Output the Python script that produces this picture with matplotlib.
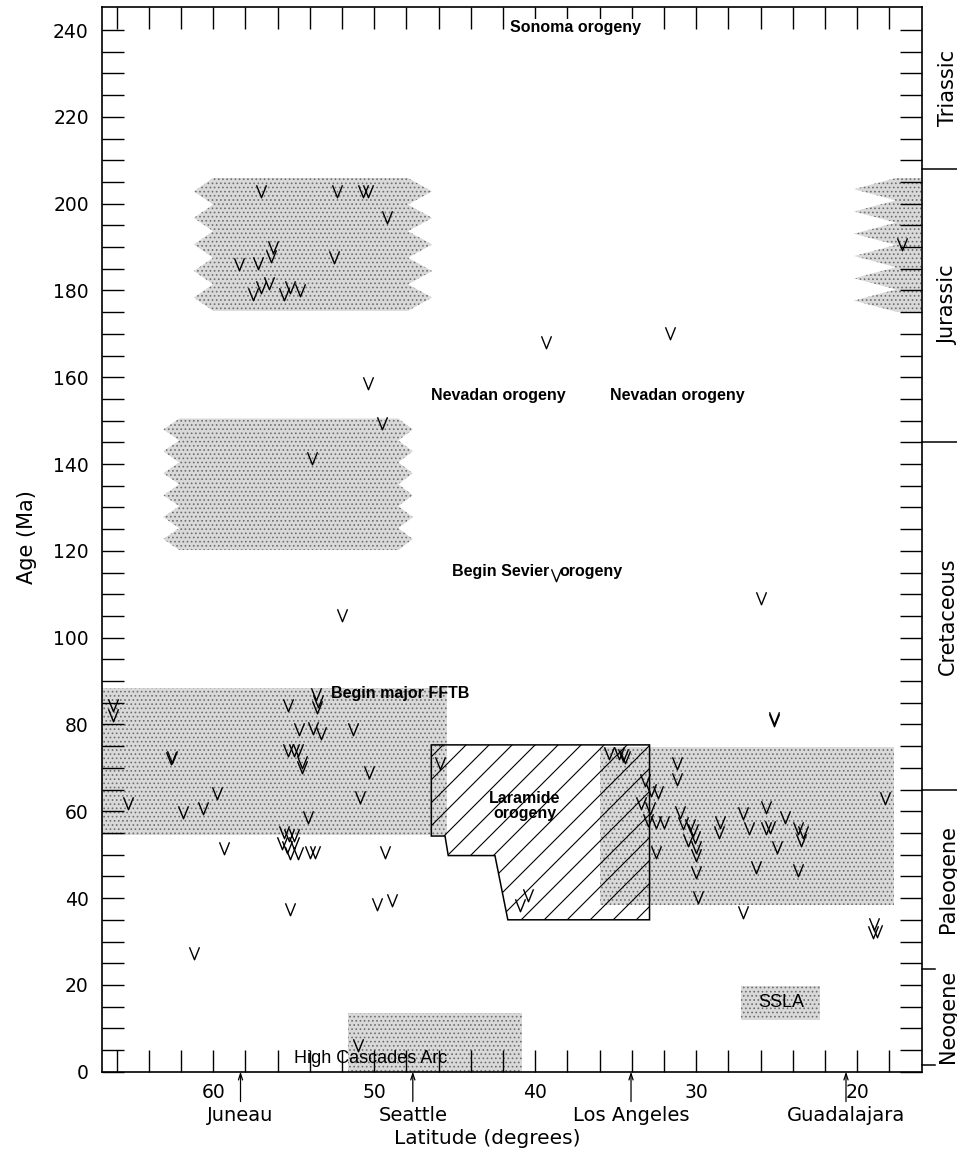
"""
plot.py - ages of arc magmatism (V symbols) against latitude along the
North American Cordillera, with orogenic events and the geologic time scale.

Output: out.png
"""

import matplotlib

matplotlib.use("Agg")
import matplotlib.pyplot as plt
import numpy as np
from matplotlib import transforms
from matplotlib.collections import LineCollection
from matplotlib.patches import Polygon
from matplotlib.path import Path

# ---------------------------------------------------------------- data
# dated volcanic / plutonic samples: latitude (deg N), age (Ma)
V_LAT = [
    # Jurassic, northern field
    57.0, 52.3, 50.7, 50.4, 49.2, 56.3, 56.4, 58.4, 57.2, 52.5,
    57.55, 57.0, 56.5, 55.6, 55.2, 54.6,
    # Jurassic, southern field
    17.2,
    # scattered Jurassic - Cretaceous
    39.3, 31.65, 50.4, 49.5, 53.85, 38.7, 26.0, 52.0, 25.2, 25.2,
    # Late Cretaceous - Eocene, north
    66.2, 66.2, 62.6, 62.55, 65.3, 61.9, 60.6, 59.75, 59.3,
    55.35, 53.6, 53.5, 53.55, 54.65, 53.8, 53.3, 51.3,
    55.35, 55.0, 54.7, 54.5, 54.5, 50.3, 50.9, 54.1, 49.3,
    55.6, 55.3, 55.0, 55.7, 55.4, 55.0, 55.2, 54.7, 54.0, 53.7,
    61.2, 55.2, 49.8, 48.9, 51.0,
    # Laramide gap
    45.9, 40.95, 40.45, 35.4, 34.8, 34.45, 34.55,
    # Late Cretaceous - Eocene, south
    31.2, 31.2, 33.2, 32.8, 32.4, 33.4, 32.9, 33.0, 32.5, 32.0,
    31.0, 30.8, 30.4, 30.2, 30.5, 30.1, 30.0, 30.0, 30.0, 29.9,
    32.5, 28.55, 28.6, 27.1, 26.7, 25.65, 25.65, 25.4, 25.0, 24.5,
    23.7, 23.4, 23.5, 26.3, 23.7, 27.1, 18.25, 18.95, 18.8, 19.05,
]
V_AGE = [
    202.8, 202.8, 202.8, 202.8, 197.0, 190.1, 187.9, 186.1, 186.3, 187.8,
    179.2, 180.9, 181.7, 179.2, 180.7, 180.0,
    190.6,
    168.2, 170.1, 158.6, 149.4, 141.3, 114.4, 109.1, 105.2, 81.0, 81.4,
    84.5, 82.3, 72.2, 72.5, 61.8, 59.9, 60.7, 64.1, 51.5,
    84.5, 87.0, 85.5, 84.0, 78.9, 79.1, 78.1, 78.9,
    74.1, 74.1, 74.1, 71.4, 70.1, 69.1, 63.4, 58.8, 50.7,
    55.3, 54.5, 54.5, 52.6, 51.8, 52.6, 50.3, 50.3, 50.7, 50.7,
    27.3, 37.4, 38.6, 39.6, 6.2,
    71.1, 38.4, 40.7, 73.4, 73.4, 72.6, 73.0,
    71.1, 67.4, 67.2, 64.9, 64.5, 61.8, 60.7, 58.0, 57.6, 57.6,
    59.9, 57.2, 56.8, 55.7, 53.4, 54.1, 51.8, 49.9, 46.1, 40.2,
    50.7, 57.6, 55.3, 59.5, 56.1, 61.1, 56.1, 56.4, 51.8, 58.8,
    56.1, 55.3, 53.4, 47.2, 46.5, 36.9, 63.0, 34.0, 32.5, 32.2,
]

# stippled arc fields with straight edges: north/south latitude, young/old age
FIELD_LAT_N = [67.0, 36.0, 51.6, 27.2]
FIELD_LAT_S = [45.5, 17.7, 40.8, 22.3]
FIELD_AGE_Y = [54.5, 38.4, 0.0, 11.9]
FIELD_AGE_O = [88.4, 74.9, 13.5, 19.7]

# stippled arc fields with ragged edges (outer / inner latitude of each side)
RAGGED_LAT_N_OUT = [61.2, 63.1, 20.2]
RAGGED_LAT_N_IN = [60.0, 62.1, 17.6]
RAGGED_LAT_S_IN = [47.9, 48.5, 16.0]
RAGGED_LAT_S_OUT = [46.4, 47.6, 16.0]
RAGGED_AGE_Y = [175.3, 120.2, 175.1]
RAGGED_AGE_O = [205.9, 150.5, 205.9]
RAGGED_TEETH = [5, 6, 6]

# Laramide orogeny outline (magmatic gap)
LARAMIDE_LAT = [46.45, 32.9, 32.9, 41.7, 42.5, 45.4, 45.6, 46.45]
LARAMIDE_AGE = [75.3, 75.3, 35.0, 35.0, 49.8, 49.8, 54.3, 54.3]

# event labels
EVENT_TEXT = ["Sonoma orogeny", "Nevadan orogeny", "Nevadan orogeny",
              "Begin Sevier", "orogeny", "Begin major FFTB",
              "Laramide\norogeny"]
EVENT_LAT = [37.5, 42.3, 31.2, 39.1, 38.5, 52.65, 40.65]
EVENT_AGE = [240.5, 155.9, 155.9, 115.2, 115.2, 87.2, 61.2]

ARC_TEXT = ["High Cascades Arc", "SSLA"]
ARC_LAT = [50.2, 24.7]
ARC_AGE = [3.1, 15.9]

# cities along the margin
CITY_NAMES = ["Juneau", "Seattle", "Los Angeles", "Guadalajara"]
CITY_LAT = [58.3, 47.6, 34.05, 20.7]

# geologic time scale on the right
PERIODS = ["Triassic", "Jurassic", "Cretaceous", "Paleogene", "Neogene"]
PERIOD_BASE = [208.0, 145.0, 65.0, 23.7, 1.6]

LAT_LABELS = [60, 50, 40, 30, 20]
AGE_LABELS = [0, 20, 40, 60, 80, 100, 120, 140, 160, 180, 200, 220, 240]

XLIM = (66.9, 16.0)
YLIM = (0.0, 245.3)

STIPPLE = dict(facecolor="#d9d9d9", edgecolor="#6e6e6e", linewidth=0,
               hatch="....", zorder=1)
NARROW = ["Liberation Sans", "DejaVu Sans"]


def ragged_outline(n_out, n_in, s_in, s_out, young, old, teeth):
    ages = np.linspace(old, young, 2 * teeth + 1)
    north = [(n_in if i % 2 == 0 else n_out, a) for i, a in enumerate(ages)]
    south = [(s_in if i % 2 == 0 else s_out, a)
             for i, a in enumerate(ages[::-1])]
    return north + south


def main():
    plt.rcParams["font.family"] = ["DejaVu Sans"]
    plt.rcParams["hatch.linewidth"] = 0.7

    fig = plt.figure(figsize=(9.57, 11.53), dpi=100)
    ax = fig.add_axes([0.1066, 0.0705, 0.8565, 0.9234])
    ax.set_xlim(*XLIM)
    ax.set_ylim(*YLIM)

    # stippled fields
    for n, s, y, o in zip(FIELD_LAT_N, FIELD_LAT_S, FIELD_AGE_Y, FIELD_AGE_O):
        ax.add_patch(Polygon([(n, y), (s, y), (s, o), (n, o)], **STIPPLE))
    for row in zip(RAGGED_LAT_N_OUT, RAGGED_LAT_N_IN, RAGGED_LAT_S_IN,
                   RAGGED_LAT_S_OUT, RAGGED_AGE_Y, RAGGED_AGE_O, RAGGED_TEETH):
        ax.add_patch(Polygon(ragged_outline(*row), **STIPPLE))

    # Laramide box, hatched with sparse diagonal lines
    lara = Polygon(list(zip(LARAMIDE_LAT, LARAMIDE_AGE)), closed=True,
                   fill=False, edgecolor="black", linewidth=1.1, zorder=3)
    ax.add_patch(lara)
    pix = ax.transData.transform(list(zip(LARAMIDE_LAT, LARAMIDE_AGE)))
    x0, y0 = pix.min(axis=0)
    x1, y1 = pix.max(axis=0)
    span = (x1 - x0) + (y1 - y0)
    segs = [[(x, y0), (x + span, y0 + span)]
            for x in np.arange(x0 - span, x1, 23.0)]
    hatch = LineCollection(segs, colors="black", linewidths=0.8,
                           transform=transforms.IdentityTransform(), zorder=2)
    hatch.set_clip_path(lara)
    ax.add_collection(hatch)

    # V symbols
    v_marker = Path([(-0.4, 0.5), (0.0, -0.5), (0.4, 0.5)],
                    [Path.MOVETO, Path.LINETO, Path.LINETO])
    ax.plot(V_LAT, V_AGE, linestyle="none", marker=v_marker, markersize=9,
            markerfacecolor="none", markeredgecolor="black",
            markeredgewidth=1.0, zorder=5)

    # event labels
    for txt, lat, age in zip(EVENT_TEXT, EVENT_LAT, EVENT_AGE):
        ha = "center"
        if txt == "Begin Sevier":
            ha = "right"
        elif txt == "orogeny" or txt.startswith("Begin major"):
            ha = "left"
        kw = {}
        if txt.startswith("Sonoma"):
            kw["bbox"] = dict(facecolor="white", edgecolor="none", pad=1)
        ax.text(lat, age, txt, ha=ha, va="center", fontsize=11.5,
                fontweight="bold", family=NARROW, linespacing=1.0,
                zorder=6, **kw)
    for txt, lat, age in zip(ARC_TEXT, ARC_LAT, ARC_AGE):
        ax.text(lat, age, txt, ha="center", va="center", fontsize=13,
                family=NARROW, zorder=6)

    # ticks
    ax.set_xticks(np.arange(18, 67, 2))
    ax.set_xticklabels([str(t) if t in LAT_LABELS else "" for t in
                        np.arange(18, 67, 2)])
    ax.set_yticks(np.arange(0, 245, 5))
    ax.set_yticklabels([str(t) if t in AGE_LABELS else "" for t in
                        np.arange(0, 245, 5)])
    ax.tick_params(direction="in", length=16, width=1.0, top=True,
                   right=True, labelsize=13.5)
    ax.tick_params(axis="x", pad=8)
    ax.tick_params(axis="y", pad=9.5)
    for sp in ax.spines.values():
        sp.set_linewidth(1.2)

    # cities
    for name, lat in zip(CITY_NAMES, CITY_LAT):
        ax.annotate("", xy=(lat, 0), xytext=(0, -21.5),
                    textcoords="offset points", annotation_clip=False,
                    arrowprops=dict(arrowstyle="->,head_length=0.45,head_width=0.15",
                                    lw=0.9, shrinkA=0, shrinkB=0))
        ax.annotate(name, xy=(lat, 0), xytext=(0, -24.5),
                    textcoords="offset points", ha="center", va="top",
                    fontsize=14, annotation_clip=False)

    fig.text(487 / 957, 1 - 1138 / 1153, "Latitude (degrees)", ha="center",
             va="center", fontsize=14.5)
    fig.text(27 / 957, 1 - 537 / 1153, "Age (Ma)", ha="center", va="center",
             rotation=90, fontsize=15)

    # time scale
    bound = transforms.blended_transform_factory(ax.transAxes, ax.transData)
    for base in PERIOD_BASE:
        end = 1.044 if base > 30 else 1.016
        ax.plot([1.0, end], [base, base], color="black", lw=1.1,
                transform=bound, clip_on=False)
    tops = [YLIM[1]] + PERIOD_BASE[:-1]
    side = transforms.blended_transform_factory(fig.transFigure, ax.transData)
    for name, top, base in zip(PERIODS, tops, PERIOD_BASE):
        ax.text(948 / 957, (top + base) / 2, name, rotation=90, ha="center",
                va="center", fontsize=15, transform=side)

    fig.savefig("out.png", dpi=100)


if __name__ == "__main__":
    main()
